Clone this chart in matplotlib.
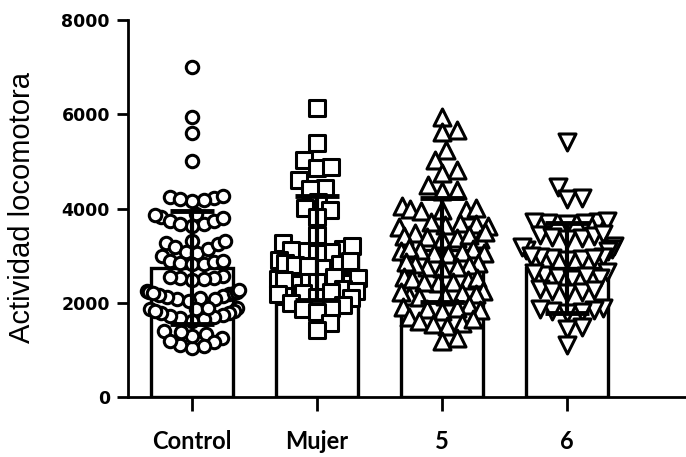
import numpy as np
import matplotlib.pyplot as plt

# values
groups = ['Control', 'Mujer', '5', '6']

control = [7000, 5950, 5600, 5020,
           4250, 4230, 4180, 4160, 4210, 4260,
           3880, 3820, 3740, 3680, 3640, 3680, 3740, 3800, 3860,
           3310, 3280, 3180, 3080, 2990, 3050, 3150, 3250, 3320,
           2880, 2850, 2820, 2830, 2860, 2890,
           2560, 2530, 2500, 2490, 2520, 2550,
           2260, 2230, 2190, 2150, 2110, 2080, 2050, 2090, 2130, 2170, 2210, 2240, 2270, 2200,
           1900, 1870, 1830, 1790, 1750, 1700, 1660, 1620, 1680, 1730, 1780, 1820, 1860, 1900,
           1400, 1330, 1250, 1160, 1080, 1040, 1100, 1200, 1300, 1380]

mujer = [6130, 5390, 5030, 4870, 4890, 4600, 4430, 4420, 4150, 4010, 3970, 3830, 3440,
         3270, 3150, 3100, 3080, 3050, 3120, 3200,
         2900, 2850, 2800, 2750, 2780, 2820, 2880,
         2550, 2500, 2450, 2400, 2420, 2480, 2530,
         2300, 2250, 2200, 2150, 2100, 2120, 2180, 2240,
         2000, 1950, 1900, 1880, 1800, 1570, 1420]

grupo5 = [5940, 5670, 5620, 5240, 5030, 4820, 4750, 4500, 4400, 4380,
          4050, 4000, 3970, 3950, 3980, 4020,
          3700, 3660, 3620, 3640, 3680, 3720,
          3480, 3420, 3380, 3350, 3360, 3400, 3450, 3500,
          3150, 3100, 3060, 3030, 3050, 3080, 3120, 3170,
          2850, 2800, 2760, 2740, 2770, 2820, 2870,
          2550, 2500, 2450, 2420, 2440, 2480, 2530,
          2250, 2200, 2150, 2120, 2140, 2180, 2230,
          1950, 1900, 1850, 1830, 1870, 1920,
          1700, 1620, 1550, 1500, 1580, 1650, 1250, 1200]

grupo6 = [5410, 4460, 4220, 4200,
          3720, 3700, 3680, 3690, 3710, 3730,
          3450, 3400, 3350, 3380, 3420, 3470,
          3200, 3150, 3100, 3130, 3180,
          2980, 2950, 2920, 2940, 2970, 3000, 2960,
          2650, 2600, 2550, 2500, 2520, 2580, 2630,
          2300, 2250, 2200, 2230, 2280,
          1900, 1850, 1800, 1780, 1820, 1870,
          1480, 1450, 1100]

means = [2750, 3160, 3120, 2740]
sds = [1200, 1100, 1100, 950]

datos = [control, mujer, grupo5, grupo6]
markers = ['o', 's', '^', 'v']
sizes = [80, 140, 150, 150]
dists = [12, 15, 15, 15]
maxw = [50, 46, 52, 50]

fig = plt.figure(figsize=(6.86, 4.57), dpi=100)
ax = fig.add_axes([0.1866, 0.131, 0.8134, 0.825])
ax.set_xlim(-0.512, 3.952)
ax.set_ylim(0, 8000)

x = np.arange(len(groups))
ax.bar(x, means, width=0.66, color='white', edgecolor='black', linewidth=2.4, zorder=1)

px_unit = ax.transData.transform([[1, 0]])[0, 0] - ax.transData.transform([[0, 0]])[0, 0]


def swarm(vals, x0, dist, wmax):
    # simple beeswarm in pixel space, wide rows squeezed to wmax
    vals = np.asarray(vals, dtype=float)
    ys = ax.transData.transform(np.column_stack([np.full(len(vals), x0), vals]))[:, 1]
    steps = np.arange(0.5, 120, 0.5)
    cands = np.concatenate([[0.0], np.column_stack([steps, -steps]).ravel()])
    placed = []
    dx = np.zeros(len(vals))
    for i in np.argsort(ys):
        for c in cands:
            if all((c - px) ** 2 + (ys[i] - py) ** 2 >= dist ** 2 for px, py in placed):
                break
        dx[i] = c
        placed.append((c, ys[i]))
    dx = wmax * np.tanh(dx / wmax)
    return x0 + dx / px_unit


for i, vals in enumerate(datos):
    xs = swarm(vals, x[i], dists[i], maxw[i])
    ax.scatter(xs, vals, s=sizes[i], marker=markers[i], facecolors='white',
               edgecolors='black', linewidths=2.2, zorder=2)

ax.errorbar(x, means, yerr=sds, fmt='none', ecolor='black', elinewidth=3,
            capsize=16, capthick=3.5, zorder=3)

for s in ['top', 'right']:
    ax.spines[s].set_visible(False)
for s in ['left', 'bottom']:
    ax.spines[s].set_linewidth(2)

ax.set_yticks([0, 2000, 4000, 6000, 8000])
ax.tick_params(axis='y', length=8, width=2, pad=5)
ax.tick_params(axis='x', length=10, width=2, pad=14)
for lab in ax.get_yticklabels():
    lab.set_fontweight('bold')
    lab.set_fontsize(12.5)
ax.set_xticks(x)
ax.set_xticklabels(groups, fontsize=17, fontweight='bold', family='Lato')

ax.set_ylabel('Actividad locomotora', fontsize=21, family='Liberation Sans')
ax.yaxis.set_label_coords(-0.165, 0.504)

fig.savefig('out.png', dpi=100)
